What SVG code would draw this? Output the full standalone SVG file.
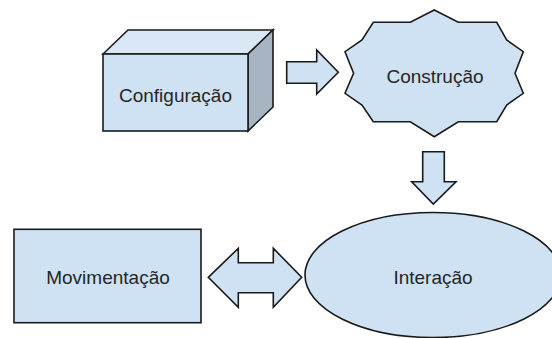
<svg xmlns="http://www.w3.org/2000/svg" width="552" height="338" viewBox="0 0 552 338">
<style>
.shape{fill:#cfe2f3;stroke:#1a1a1a;stroke-width:1.6;stroke-linejoin:miter}
.top{fill:#dae8f6;stroke:#1a1a1a;stroke-width:1.6}
.side{fill:#a7b5c3;stroke:#1a1a1a;stroke-width:1.6}
.arrow{fill:#cfe2f3;stroke:#1a1a1a;stroke-width:1.6;stroke-linejoin:miter}
.label{font-family:"Liberation Sans",Arial,sans-serif;font-size:19px;fill:#262626;text-anchor:middle}
</style>
<rect width="552" height="338" fill="#ffffff"/>
<g id="configuracao">
<polygon class="top" points="103,54 128,30 273,30 248,54"/>
<polygon class="side" points="248,54 273,30 273,107 248,131"/>
<rect class="shape" x="103" y="54" width="145" height="77"/>
<text class="label" x="175.5" y="102">Configuração</text>
</g>
<g id="construcao">
<polygon class="shape" points="434.3,10 458.3,22.3 496.7,22.3 506.7,40 523.3,51.7 515,73.3 523.3,93.3 506.7,105 496.7,121.7 458.3,121.7 434.3,136.7 410.3,121.7 373.3,121.7 362,105 345,93.3 353.6,73.3 345,51.7 362,40 373.3,22.3 410.3,22.3"/>
<text class="label" x="435" y="83">Construção</text>
</g>
<g id="interacao">
<ellipse class="shape" cx="433" cy="275" rx="128" ry="62.5"/>
<text class="label" x="433" y="283.5">Interação</text>
</g>
<g id="movimentacao">
<rect class="shape" x="14" y="229.3" width="187" height="93.4"/>
<text class="label" x="108" y="284">Movimentação</text>
</g>
<g id="connectors">
<polygon class="arrow" points="286.7,61.7 316.7,61.7 316.7,50 338.3,72.3 316.7,94 316.7,83.3 286.7,83.3"/>
<polygon class="arrow" points="422.7,151.7 444.3,151.7 444.3,181.7 456,181.7 433.3,204 411.7,181.7 422.7,181.7"/>
<polygon class="arrow" points="208.3,277.3 238.3,248.3 238.3,262.7 273.3,262.7 273.3,248.3 301.7,277.3 273.3,307.3 273.3,292.7 238.3,292.7 238.3,307.3"/>
</g>
</svg>
